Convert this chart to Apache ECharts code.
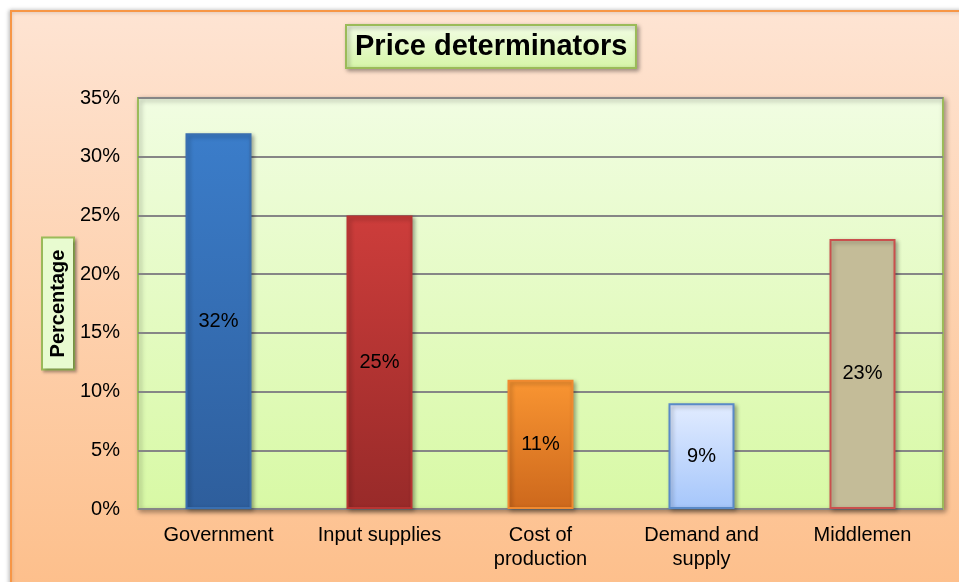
<!DOCTYPE html>
<html>
<head>
<meta charset="utf-8">
<script src="https://cdn.jsdelivr.net/npm/echarts@6/dist/echarts.min.js"></script>
<style>
  html, body { margin: 0; padding: 0; background: #fff; }
  #chart { width: 959px; height: 582px; }
</style>
</head>
<body>
<div id="chart"></div>
<script>
// data
const categories = ['Government', 'Input supplies', 'Cost of\nproduction', 'Demand and\nsupply', 'Middlemen'];
const values = [32, 25, 11, 9, 23];
const yTicks = [0, 5, 10, 15, 20, 25, 30, 35];

// bar looks: [top colour, bottom colour, border]
const barLooks = [
  ['#3b7dca', '#2e5e9c', '#3a6fb0'],
  ['#cd3d3b', '#982a29', '#b83432'],
  ['#f99532', '#cd681c', '#f08a30'],
  ['#e2ecff', '#a5c6fb', '#5a8ac8'],
  ['#c4bc98', '#c4bc98', '#c9504d']
];

const grad = (a, b) => new echarts.graphic.LinearGradient(0, 0, 0, 1, [
  { offset: 0, color: a }, { offset: 1, color: b }
]);

const chart = echarts.init(document.getElementById('chart'));

chart.setOption({
  animation: false,
  textStyle: { fontFamily: 'Liberation Sans, Arial, sans-serif' },
  graphic: [{
    type: 'rect',
    z: -10,
    shape: { x: 11, y: 11, width: 960, height: 580 },
    style: {
      fill: grad('#fee4d3', '#fdbf8b'),
      stroke: '#f79646',
      lineWidth: 2,
      shadowBlur: 4,
      shadowColor: 'rgba(0,0,0,0.25)',
      shadowOffsetX: -1
    }
  }],
  title: {
    text: 'Price determinators',
    left: 346,
    top: 25,
    padding: [6, 9, 6, 9],
    backgroundColor: grad('#f3fde6', '#d5f5a6'),
    borderColor: '#9bbb59',
    borderWidth: 2,
    shadowBlur: 4,
    shadowColor: 'rgba(0,0,0,0.35)',
    shadowOffsetX: 2,
    shadowOffsetY: 2,
    textStyle: { fontSize: 29, fontWeight: 'bold', color: '#000', lineHeight: 31 }
  },
  grid: {
    left: 138,
    right: 16,
    top: 98,
    bottom: 73,
    show: true,
    backgroundColor: grad('#f1fde2', '#d8f9a5'),
    borderColor: '#9bbb59',
    borderWidth: 2,
    shadowBlur: 5,
    shadowColor: 'rgba(0,0,0,0.35)',
    shadowOffsetX: 2,
    shadowOffsetY: 2
  },
  xAxis: {
    type: 'category',
    data: categories,
    axisLine: { show: false },
    axisTick: { show: false },
    axisLabel: { fontSize: 20, color: '#000', margin: 14, lineHeight: 24 }
  },
  yAxis: {
    type: 'value',
    min: yTicks[0],
    max: yTicks[yTicks.length - 1],
    interval: 5,
    name: 'Percentage',
    nameLocation: 'middle',
    nameRotate: 90,
    nameGap: 65,
    nameMoveOverlap: false,
    nameTextStyle: {
      fontSize: 20,
      fontWeight: 'bold',
      color: '#000',
      lineHeight: 22,
      padding: [4, 11, 4, 11],
      backgroundColor: '#e8fbd0',
      borderColor: '#9bbb59',
      borderWidth: 2,
      shadowBlur: 3,
      shadowColor: 'rgba(0,0,0,0.3)',
      shadowOffsetX: 2,
      shadowOffsetY: 2
    },
    axisLine: { show: false },
    axisTick: { show: false },
    axisLabel: { fontSize: 20, color: '#000', margin: 18, formatter: '{value}%' },
    splitLine: { lineStyle: { color: '#868686', width: 2 } }
  },
  series: [{
    type: 'bar',
    barWidth: 66,
    data: values.map((v, i) => ({
      value: v,
      itemStyle: {
        color: grad(barLooks[i][0], barLooks[i][1]),
        borderColor: barLooks[i][2],
        borderWidth: 2,
        shadowBlur: 4,
        shadowColor: 'rgba(0,0,0,0.3)',
        shadowOffsetX: 2,
        shadowOffsetY: 2
      }
    })),
    label: {
      show: true,
      position: 'inside',
      fontSize: 20,
      color: '#000',
      formatter: '{c}%'
    }
  }]
});
</script>
</body>
</html>
